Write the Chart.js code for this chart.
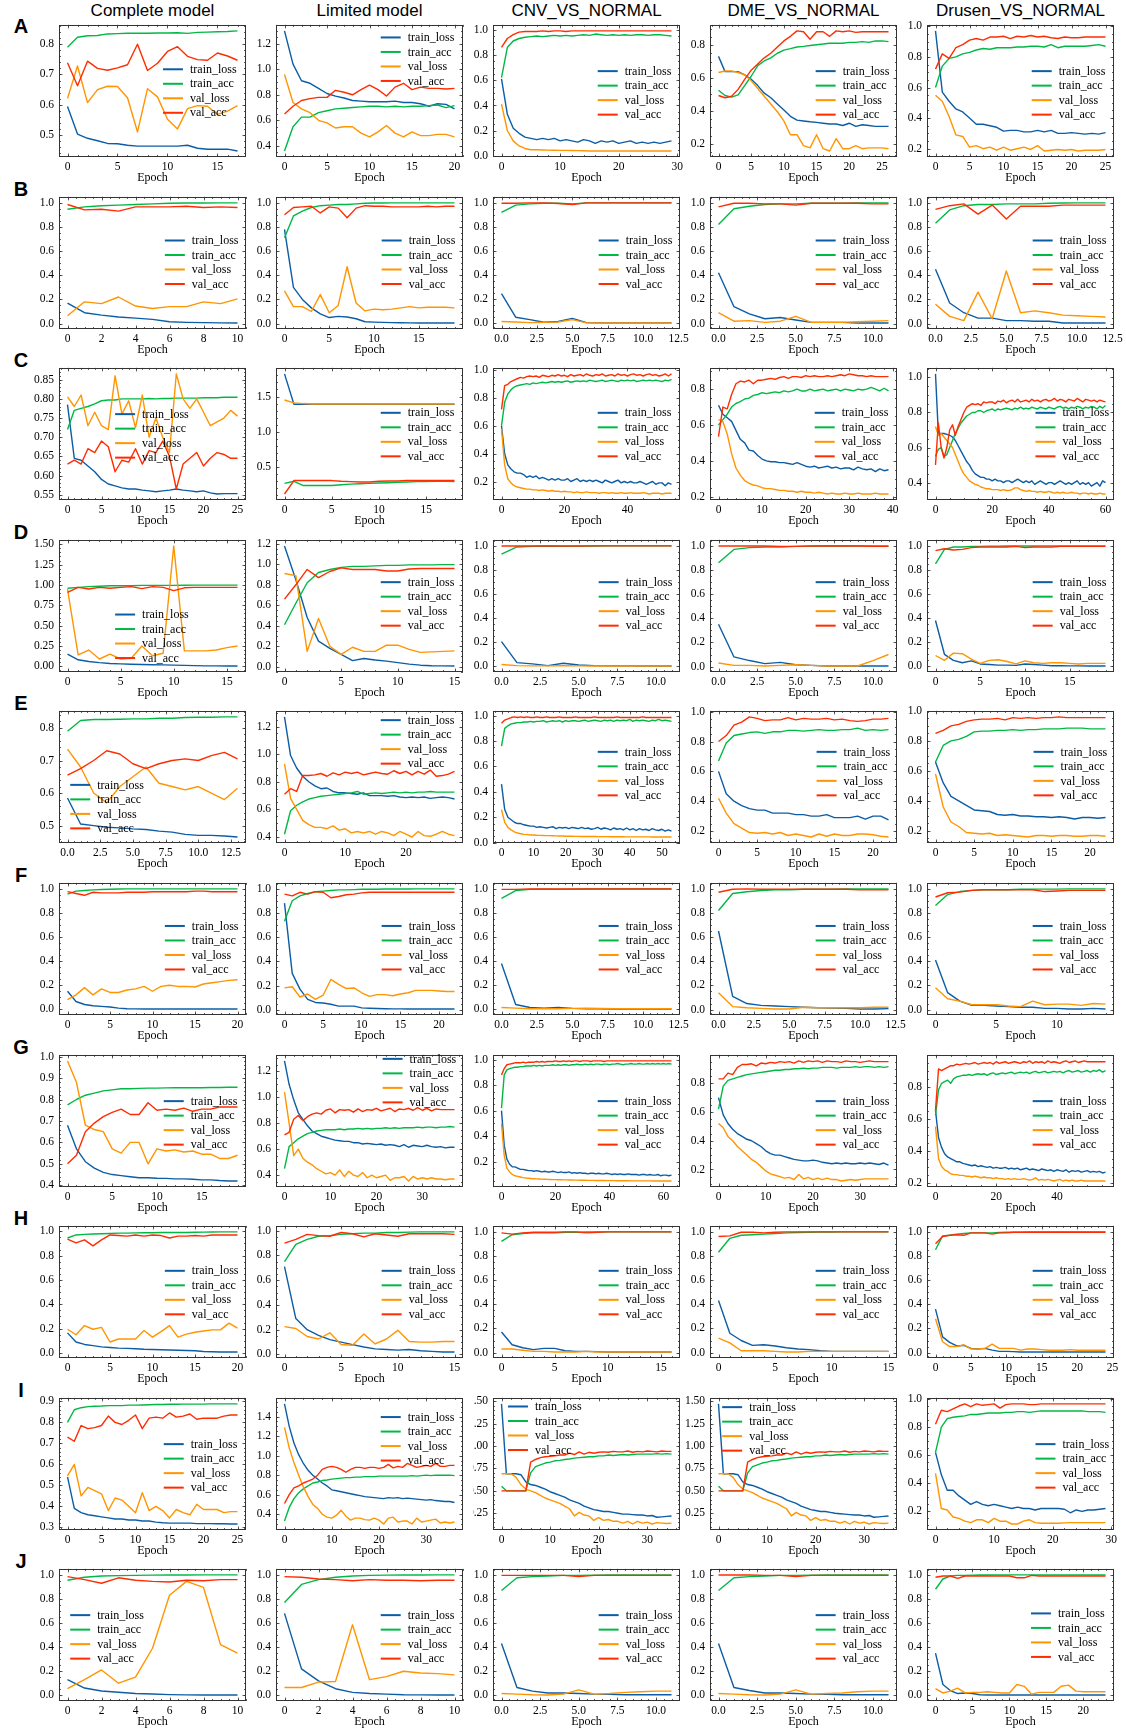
<!DOCTYPE html>
<html><head><meta charset="utf-8">
<script src="https://cdn.jsdelivr.net/npm/chart.js@4.4.0/dist/chart.umd.min.js"></script>
<style>
html,body{margin:0;padding:0;background:#fff;}
#fig{position:relative;width:1126px;height:1732px;overflow:hidden;background:#fff;}
.ttl{position:absolute;top:0;height:22px;line-height:22px;width:240px;text-align:center;font-family:"Liberation Sans",Arial,sans-serif;font-size:17px;color:#000;white-space:nowrap;}
.let{position:absolute;width:30px;text-align:center;font-family:"Liberation Sans",Arial,sans-serif;font-weight:bold;font-size:20px;line-height:24px;color:#000;}
canvas{position:absolute;}
</style></head><body><div id="fig"></div>
<script>
// ---------- labels ----------
const SERIES_NAMES = ['train_loss','train_acc','val_loss','val_acc'];
const SERIES_COLORS = ['#0C5DA5','#00B945','#FF9500','#FF2C00'];
const COLUMN_TITLES = ['Complete model','Limited model','CNV_VS_NORMAL','DME_VS_NORMAL','Drusen_VS_NORMAL'];
const ROW_LETTERS = ['A','B','C','D','E','F','G','H','I','J'];

// ---------- row A ----------
const A1_train_loss = [0.594,0.503,0.489,0.481,0.472,0.471,0.466,0.463,0.463,0.463,0.463,0.463,0.466,0.456,0.453,0.453,0.453,0.447];
const A1_train_acc = [0.790,0.823,0.828,0.829,0.834,0.835,0.836,0.836,0.836,0.837,0.837,0.838,0.836,0.839,0.840,0.841,0.842,0.844];
const A1_val_loss = [0.621,0.728,0.607,0.650,0.661,0.660,0.623,0.510,0.653,0.626,0.552,0.520,0.587,0.597,0.595,0.568,0.579,0.597];
const A1_val_acc = [0.739,0.663,0.744,0.720,0.714,0.722,0.732,0.800,0.713,0.737,0.776,0.792,0.760,0.749,0.747,0.771,0.761,0.747];

const A2_train_loss = [1.30,1.04,0.91,0.89,0.85,0.81,0.79,0.775,0.755,0.75,0.745,0.745,0.745,0.75,0.74,0.74,0.73,0.71,0.73,0.725,0.69];
const A2_train_acc = [0.36,0.55,0.625,0.625,0.66,0.675,0.69,0.695,0.70,0.705,0.71,0.71,0.705,0.71,0.705,0.71,0.71,0.715,0.72,0.70,0.715];
const A2_val_loss = [0.96,0.74,0.69,0.66,0.60,0.58,0.54,0.55,0.55,0.50,0.47,0.51,0.56,0.50,0.47,0.51,0.48,0.48,0.49,0.49,0.47];
const A2_val_acc = [0.65,0.71,0.755,0.77,0.78,0.78,0.835,0.82,0.80,0.84,0.875,0.84,0.79,0.86,0.89,0.84,0.86,0.85,0.85,0.845,0.85];

const A3_train_loss = [0.61,0.33,0.22,0.18,0.15,0.14,0.13,0.14,0.13,0.14,0.12,0.13,0.12,0.11,0.13,0.12,0.10,0.12,0.11,0.12,0.10,0.11,0.12,0.10,0.11,0.10,0.11,0.10,0.11,0.12];
const A3_train_acc = [0.62,0.86,0.91,0.93,0.94,0.945,0.95,0.945,0.95,0.955,0.95,0.955,0.95,0.955,0.96,0.955,0.965,0.96,0.955,0.96,0.955,0.96,0.955,0.96,0.96,0.955,0.96,0.96,0.955,0.95];
const A3_val_loss = [0.41,0.20,0.12,0.08,0.06,0.05,0.05,0.048,0.047,0.046,0.045,0.045,0.044,0.043,0.042,0.04,0.04,0.04,0.04,0.04,0.04,0.04,0.04,0.04,0.04,0.04,0.04,0.04,0.04,0.04];
const A3_val_acc = [0.86,0.93,0.96,0.98,0.985,0.985,0.985,0.99,0.985,0.99,0.99,0.985,0.99,0.99,0.99,0.99,0.99,0.99,0.99,0.99,0.99,0.99,0.99,0.99,0.99,0.99,0.99,0.99,0.99,0.99];

const A4_train_loss = [0.732,0.639,0.639,0.639,0.620,0.592,0.554,0.508,0.480,0.442,0.405,0.367,0.344,0.339,0.334,0.330,0.325,0.320,0.320,0.311,0.325,0.306,0.316,0.311,0.306,0.306,0.306];
const A4_train_acc = [0.526,0.494,0.484,0.498,0.554,0.611,0.676,0.704,0.723,0.751,0.770,0.779,0.789,0.793,0.798,0.803,0.807,0.812,0.812,0.812,0.817,0.817,0.822,0.817,0.826,0.826,0.822];
const A4_val_loss = [0.634,0.643,0.643,0.634,0.620,0.583,0.536,0.489,0.442,0.395,0.339,0.255,0.255,0.189,0.175,0.255,0.170,0.156,0.231,0.170,0.170,0.189,0.170,0.175,0.175,0.175,0.170];
const A4_val_acc = [0.494,0.480,0.489,0.531,0.592,0.648,0.686,0.723,0.751,0.789,0.826,0.854,0.887,0.882,0.836,0.882,0.882,0.854,0.887,0.882,0.887,0.878,0.882,0.882,0.882,0.882,0.882];

const A5_train_loss = [0.97,0.57,0.51,0.46,0.44,0.40,0.36,0.36,0.35,0.34,0.315,0.32,0.32,0.31,0.31,0.32,0.31,0.32,0.30,0.30,0.305,0.30,0.295,0.30,0.295,0.305];
const A5_train_acc = [0.60,0.74,0.79,0.80,0.82,0.83,0.845,0.855,0.85,0.86,0.86,0.86,0.865,0.865,0.87,0.87,0.865,0.88,0.86,0.87,0.87,0.87,0.87,0.875,0.88,0.87];
const A5_val_loss = [0.55,0.51,0.41,0.29,0.28,0.21,0.22,0.20,0.21,0.19,0.21,0.19,0.20,0.21,0.195,0.22,0.185,0.19,0.195,0.19,0.195,0.185,0.19,0.19,0.19,0.195];
const A5_val_acc = [0.72,0.82,0.79,0.86,0.88,0.91,0.92,0.91,0.93,0.93,0.935,0.92,0.935,0.93,0.94,0.93,0.935,0.925,0.92,0.93,0.925,0.925,0.93,0.93,0.93,0.93];

// ---------- row B ----------
const B1_train_loss = [0.17,0.09,0.07,0.055,0.045,0.035,0.015,0.01,0.008,0.006,0.005];
const B1_train_acc = [0.945,0.965,0.975,0.98,0.985,0.99,0.995,0.997,0.997,0.998,0.998];
const B1_val_loss = [0.065,0.18,0.165,0.22,0.145,0.125,0.14,0.14,0.18,0.165,0.205];
const B1_val_acc = [0.985,0.94,0.945,0.93,0.965,0.965,0.965,0.97,0.96,0.965,0.96];

const B2_train_loss = [0.78,0.30,0.20,0.13,0.08,0.05,0.06,0.055,0.04,0.015,0.012,0.01,0.008,0.007,0.006,0.005,0.005,0.005,0.005,0.005];
const B2_train_acc = [0.71,0.89,0.93,0.96,0.975,0.98,0.985,0.985,0.99,0.995,0.997,0.997,0.998,0.998,0.998,0.998,0.998,0.998,0.998,0.998];
const B2_val_loss = [0.27,0.14,0.14,0.10,0.24,0.09,0.15,0.47,0.17,0.105,0.12,0.115,0.12,0.13,0.14,0.13,0.135,0.135,0.135,0.13];
const B2_val_acc = [0.90,0.96,0.965,0.97,0.915,0.965,0.955,0.875,0.955,0.975,0.97,0.97,0.965,0.965,0.965,0.965,0.97,0.965,0.97,0.97];

const B3_train_loss = [0.245,0.05,0.03,0.008,0.015,0.04,0.005,0.003,0.003,0.003,0.003,0.003,0.003];
const B3_train_acc = [0.92,0.98,0.99,0.995,0.995,0.99,0.998,0.998,0.998,0.998,0.998,0.998,0.998];
const B3_val_loss = [0.015,0.01,0.005,0.008,0.01,0.03,0.003,0.002,0.002,0.002,0.002,0.002,0.002];
const B3_val_acc = [0.995,0.995,0.998,0.998,0.993,0.985,0.998,0.998,0.998,0.998,0.998,0.998,0.998];

const B4_train_loss = [0.42,0.14,0.08,0.04,0.05,0.03,0.01,0.01,0.01,0.005,0.005,0.005];
const B4_train_acc = [0.82,0.95,0.97,0.985,0.99,0.99,0.995,0.995,0.995,0.998,0.998,0.998];
const B4_val_loss = [0.09,0.02,0.025,0.01,0.02,0.06,0.01,0.01,0.01,0.015,0.02,0.025];
const B4_val_acc = [0.965,0.995,0.995,0.99,0.99,0.98,0.995,0.995,0.995,0.995,0.99,0.99];

const B5_train_loss = [0.45,0.17,0.09,0.045,0.045,0.025,0.025,0.02,0.02,0.005,0.005,0.005,0.005];
const B5_train_acc = [0.83,0.94,0.975,0.985,0.985,0.99,0.99,0.99,0.995,0.997,0.998,0.998,0.998];
const B5_val_loss = [0.16,0.06,0.025,0.26,0.04,0.435,0.09,0.105,0.09,0.07,0.065,0.06,0.055];
const B5_val_acc = [0.945,0.975,0.99,0.905,0.98,0.865,0.97,0.97,0.97,0.98,0.98,0.98,0.98];

// ---------- row C ----------
const C1_train_loss = [0.785,0.645,0.64,0.625,0.61,0.59,0.578,0.573,0.568,0.565,0.565,0.562,0.56,0.558,0.56,0.562,0.565,0.562,0.56,0.558,0.56,0.555,0.552,0.553,0.553,0.553];
const C1_train_acc = [0.72,0.77,0.775,0.78,0.787,0.795,0.797,0.797,0.80,0.80,0.80,0.80,0.801,0.80,0.801,0.801,0.802,0.802,0.802,0.802,0.803,0.803,0.803,0.804,0.804,0.804];
const C1_val_loss = [0.805,0.78,0.81,0.73,0.765,0.73,0.72,0.86,0.76,0.795,0.725,0.81,0.70,0.75,0.70,0.66,0.865,0.80,0.775,0.80,0.765,0.73,0.74,0.75,0.77,0.755];
const C1_val_acc = [0.63,0.64,0.63,0.67,0.66,0.69,0.675,0.61,0.64,0.635,0.67,0.63,0.665,0.66,0.69,0.65,0.565,0.63,0.645,0.66,0.625,0.645,0.66,0.655,0.645,0.645];

const C2_train_loss = [1.82,1.39,1.39,1.39,1.39,1.39,1.39,1.39,1.39,1.39,1.39,1.39,1.39,1.39,1.39,1.39,1.39,1.39,1.39];
const C2_train_acc = [0.27,0.30,0.24,0.24,0.24,0.24,0.25,0.26,0.265,0.27,0.275,0.28,0.285,0.29,0.295,0.295,0.30,0.30,0.295];
const C2_val_loss = [1.45,1.41,1.40,1.395,1.395,1.395,1.395,1.395,1.395,1.395,1.395,1.395,1.395,1.395,1.395,1.395,1.395,1.395,1.395];
const C2_val_acc = [0.12,0.31,0.31,0.31,0.31,0.31,0.30,0.295,0.29,0.29,0.30,0.305,0.305,0.31,0.31,0.31,0.31,0.31,0.31];

const C3_train_loss = [0.60,0.40,0.32,0.29,0.27,0.26,0.26,0.25,0.23,0.24,0.23,0.24,0.22,0.23,0.22,0.21,0.22,0.21,0.22,0.21,0.21,0.22,0.20,0.21,0.22,0.20,0.21,0.20,0.21,0.20,0.21,0.20,0.19,0.21,0.20,0.19,0.20,0.21,0.19,0.20,0.19,0.20,0.19,0.19,0.20,0.19,0.18,0.19,0.20,0.18,0.19,0.19,0.17,0.19,0.18];
const C3_train_acc = [0.60,0.77,0.83,0.86,0.88,0.89,0.895,0.90,0.905,0.90,0.91,0.905,0.91,0.915,0.91,0.915,0.92,0.915,0.92,0.915,0.92,0.925,0.915,0.92,0.925,0.92,0.925,0.92,0.93,0.925,0.92,0.925,0.93,0.92,0.925,0.93,0.925,0.92,0.93,0.925,0.93,0.925,0.93,0.92,0.925,0.93,0.925,0.93,0.925,0.93,0.925,0.92,0.93,0.925,0.935];
const C3_val_loss = [0.58,0.32,0.22,0.19,0.17,0.16,0.155,0.15,0.145,0.145,0.14,0.14,0.135,0.14,0.135,0.13,0.135,0.13,0.13,0.125,0.13,0.125,0.125,0.12,0.125,0.12,0.12,0.125,0.12,0.12,0.12,0.115,0.12,0.12,0.115,0.12,0.115,0.115,0.12,0.115,0.115,0.12,0.115,0.115,0.115,0.12,0.115,0.11,0.115,0.115,0.115,0.11,0.115,0.115,0.115];
const C3_val_acc = [0.72,0.89,0.90,0.92,0.93,0.94,0.95,0.945,0.955,0.96,0.955,0.96,0.95,0.965,0.96,0.955,0.965,0.96,0.97,0.96,0.965,0.955,0.97,0.96,0.965,0.97,0.96,0.975,0.965,0.96,0.97,0.965,0.975,0.96,0.965,0.97,0.96,0.975,0.965,0.97,0.96,0.97,0.975,0.965,0.97,0.96,0.97,0.975,0.965,0.97,0.96,0.965,0.975,0.96,0.975];

const C4_train_loss = [0.71,0.66,0.64,0.62,0.57,0.52,0.50,0.46,0.455,0.43,0.41,0.40,0.395,0.395,0.39,0.39,0.385,0.38,0.39,0.38,0.37,0.365,0.37,0.36,0.365,0.37,0.36,0.365,0.355,0.36,0.36,0.35,0.365,0.355,0.35,0.355,0.34,0.355,0.345,0.35];
const C4_train_acc = [0.60,0.63,0.66,0.70,0.72,0.73,0.745,0.75,0.765,0.77,0.78,0.775,0.78,0.785,0.78,0.79,0.785,0.79,0.80,0.79,0.79,0.80,0.79,0.795,0.80,0.79,0.795,0.80,0.79,0.80,0.795,0.79,0.80,0.795,0.80,0.81,0.80,0.79,0.805,0.79];
const C4_val_loss = [0.63,0.62,0.55,0.44,0.36,0.32,0.29,0.275,0.265,0.26,0.25,0.245,0.245,0.24,0.235,0.235,0.23,0.23,0.225,0.23,0.225,0.225,0.22,0.225,0.22,0.215,0.22,0.215,0.215,0.22,0.215,0.215,0.22,0.215,0.215,0.215,0.22,0.215,0.215,0.215];
const C4_val_acc = [0.535,0.70,0.69,0.77,0.83,0.845,0.84,0.85,0.83,0.85,0.85,0.855,0.86,0.855,0.865,0.87,0.86,0.87,0.87,0.865,0.875,0.87,0.875,0.87,0.87,0.875,0.87,0.875,0.88,0.875,0.885,0.88,0.875,0.875,0.87,0.875,0.87,0.87,0.87,0.87];

const C5_train_loss = [1.02,0.68,0.68,0.68,0.675,0.67,0.66,0.64,0.61,0.58,0.55,0.52,0.50,0.47,0.45,0.44,0.43,0.43,0.42,0.42,0.41,0.42,0.41,0.41,0.40,0.41,0.41,0.40,0.41,0.42,0.41,0.40,0.41,0.40,0.41,0.39,0.40,0.41,0.40,0.39,0.40,0.40,0.39,0.40,0.41,0.40,0.39,0.40,0.39,0.40,0.41,0.39,0.40,0.39,0.40,0.38,0.39,0.40,0.38,0.41,0.40];
const C5_train_acc = [0.55,0.59,0.60,0.55,0.56,0.60,0.64,0.68,0.71,0.74,0.76,0.78,0.79,0.80,0.80,0.81,0.81,0.80,0.81,0.815,0.82,0.81,0.82,0.815,0.82,0.825,0.82,0.815,0.825,0.82,0.83,0.82,0.825,0.82,0.83,0.825,0.82,0.83,0.825,0.82,0.83,0.825,0.82,0.83,0.835,0.825,0.83,0.82,0.83,0.825,0.835,0.83,0.82,0.83,0.825,0.835,0.83,0.82,0.835,0.825,0.84];
const C5_val_loss = [0.72,0.67,0.68,0.66,0.64,0.62,0.60,0.56,0.52,0.48,0.45,0.43,0.41,0.40,0.39,0.385,0.375,0.37,0.365,0.365,0.36,0.36,0.36,0.355,0.36,0.355,0.355,0.36,0.37,0.37,0.36,0.355,0.35,0.355,0.35,0.35,0.345,0.35,0.345,0.345,0.35,0.345,0.34,0.345,0.34,0.345,0.34,0.34,0.345,0.34,0.34,0.335,0.34,0.34,0.335,0.34,0.335,0.335,0.34,0.335,0.335];
const C5_val_acc = [0.50,0.74,0.60,0.54,0.60,0.70,0.73,0.67,0.72,0.76,0.80,0.83,0.84,0.85,0.845,0.85,0.84,0.86,0.855,0.86,0.86,0.85,0.865,0.86,0.87,0.855,0.865,0.87,0.86,0.875,0.86,0.865,0.87,0.86,0.875,0.865,0.87,0.86,0.87,0.875,0.865,0.87,0.88,0.865,0.875,0.87,0.86,0.875,0.87,0.865,0.88,0.87,0.86,0.875,0.87,0.865,0.87,0.86,0.87,0.865,0.86];

// ---------- row D ----------
const D1_train_loss = [0.15,0.08,0.06,0.045,0.035,0.03,0.025,0.022,0.02,0.018,0.015,0.012,0.008,0.005,0.005,0.004,0.004];
const D1_train_acc = [0.96,0.97,0.98,0.985,0.99,0.99,0.99,0.995,0.995,0.995,0.995,0.997,0.998,0.998,0.998,0.998,0.998];
const D1_val_loss = [0.95,0.14,0.20,0.09,0.15,0.09,0.10,0.25,0.13,0.16,1.48,0.19,0.19,0.19,0.20,0.23,0.25];
const D1_val_acc = [0.91,0.97,0.95,0.97,0.96,0.97,0.98,0.955,0.98,0.97,0.93,0.965,0.97,0.97,0.97,0.97,0.97];

const D2_train_loss = [1.18,0.85,0.48,0.25,0.18,0.12,0.06,0.08,0.065,0.055,0.04,0.025,0.015,0.01,0.008,0.007];
const D2_train_acc = [0.41,0.62,0.82,0.92,0.95,0.97,0.98,0.98,0.985,0.99,0.99,0.995,0.995,0.995,0.997,0.997];
const D2_val_loss = [0.91,0.89,0.15,0.47,0.20,0.12,0.19,0.15,0.15,0.21,0.21,0.17,0.14,0.145,0.15,0.155];
const D2_val_acc = [0.66,0.80,0.95,0.87,0.93,0.965,0.95,0.95,0.95,0.935,0.935,0.955,0.96,0.96,0.96,0.96];

const D3_train_loss = [0.205,0.03,0.02,0.005,0.025,0.01,0.005,0.003,0.003,0.002,0.002,0.002];
const D3_train_acc = [0.93,0.99,0.995,0.998,0.995,0.997,0.998,0.999,0.999,0.999,0.999,0.999];
const D3_val_loss = [0.015,0.005,0.003,0.003,0.004,0.003,0.002,0.002,0.002,0.002,0.002,0.002];
const D3_val_acc = [0.998,0.998,0.998,0.998,0.998,0.998,0.999,0.999,0.999,0.999,0.999,0.999];

const D4_train_loss = [0.35,0.08,0.05,0.025,0.035,0.015,0.01,0.005,0.005,0.005,0.005,0.005];
const D4_train_acc = [0.86,0.97,0.985,0.99,0.99,0.995,0.997,0.998,0.998,0.999,0.999,0.999];
const D4_val_loss = [0.03,0.01,0.01,0.005,0.01,0.015,0.01,0.005,0.005,0.005,0.05,0.10];
const D4_val_acc = [0.998,0.998,0.998,0.998,0.995,0.995,0.998,0.998,0.998,0.998,0.995,0.995];

const D5_train_loss = [0.38,0.10,0.05,0.03,0.045,0.02,0.015,0.01,0.01,0.008,0.02,0.015,0.01,0.005,0.005,0.004,0.004,0.003,0.003,0.003];
const D5_train_acc = [0.85,0.97,0.99,0.99,0.995,0.995,0.997,0.997,0.998,0.998,0.998,0.998,0.999,0.999,0.999,0.999,0.999,0.999,0.999,0.999];
const D5_val_loss = [0.09,0.05,0.11,0.105,0.06,0.025,0.05,0.055,0.04,0.02,0.045,0.03,0.025,0.03,0.03,0.025,0.02,0.025,0.025,0.025];
const D5_val_acc = [0.96,0.975,0.965,0.97,0.985,0.99,0.99,0.99,0.99,0.995,0.985,0.99,0.99,0.99,0.995,0.995,0.995,0.995,0.995,0.995];

// ---------- row E ----------
const E1_train_loss = [0.585,0.505,0.50,0.495,0.493,0.49,0.488,0.483,0.48,0.473,0.47,0.47,0.468,0.465];
const E1_train_acc = [0.79,0.823,0.826,0.826,0.827,0.828,0.828,0.83,0.83,0.832,0.833,0.833,0.834,0.834];
const E1_val_loss = [0.735,0.68,0.60,0.57,0.62,0.65,0.68,0.63,0.62,0.61,0.62,0.60,0.58,0.615];
const E1_val_acc = [0.655,0.675,0.70,0.73,0.72,0.69,0.675,0.69,0.70,0.705,0.70,0.715,0.725,0.705];

const E2_train_loss = [1.27,0.99,0.90,0.84,0.80,0.77,0.75,0.755,0.73,0.72,0.72,0.715,0.71,0.72,0.70,0.70,0.70,0.695,0.70,0.69,0.685,0.69,0.685,0.69,0.68,0.685,0.69,0.685,0.675];
const E2_train_acc = [0.42,0.59,0.63,0.655,0.675,0.685,0.695,0.70,0.705,0.71,0.715,0.72,0.73,0.71,0.715,0.72,0.715,0.72,0.725,0.72,0.725,0.72,0.725,0.725,0.73,0.725,0.725,0.725,0.725];
const E2_val_loss = [0.93,0.68,0.60,0.52,0.49,0.47,0.47,0.46,0.48,0.45,0.46,0.43,0.44,0.43,0.44,0.42,0.44,0.43,0.41,0.44,0.42,0.40,0.44,0.41,0.405,0.42,0.44,0.42,0.41];
const E2_val_acc = [0.71,0.75,0.73,0.845,0.845,0.85,0.86,0.84,0.865,0.85,0.87,0.86,0.87,0.85,0.86,0.87,0.86,0.855,0.88,0.86,0.875,0.85,0.875,0.855,0.885,0.84,0.845,0.855,0.875];

const E3_train_loss = [0.46,0.26,0.20,0.18,0.16,0.15,0.15,0.14,0.135,0.13,0.13,0.12,0.125,0.12,0.115,0.12,0.125,0.11,0.12,0.115,0.12,0.11,0.12,0.115,0.11,0.12,0.11,0.115,0.105,0.11,0.12,0.105,0.115,0.11,0.10,0.115,0.105,0.11,0.10,0.115,0.10,0.11,0.095,0.11,0.10,0.105,0.095,0.11,0.10,0.095,0.105,0.09,0.10,0.09];
const E3_train_acc = [0.76,0.90,0.92,0.935,0.94,0.945,0.945,0.95,0.95,0.955,0.95,0.955,0.955,0.96,0.95,0.955,0.96,0.955,0.96,0.95,0.96,0.955,0.96,0.96,0.955,0.96,0.965,0.955,0.96,0.965,0.96,0.955,0.965,0.96,0.965,0.955,0.965,0.96,0.965,0.96,0.97,0.955,0.965,0.96,0.965,0.96,0.955,0.965,0.96,0.97,0.96,0.965,0.96,0.955];
const E3_val_loss = [0.26,0.16,0.12,0.10,0.085,0.075,0.07,0.065,0.063,0.06,0.06,0.058,0.057,0.056,0.055,0.055,0.054,0.053,0.052,0.052,0.05,0.05,0.05,0.049,0.049,0.048,0.048,0.048,0.048,0.048,0.047,0.047,0.047,0.047,0.046,0.046,0.046,0.046,0.046,0.045,0.045,0.045,0.045,0.045,0.045,0.045,0.045,0.044,0.044,0.044,0.044,0.044,0.044,0.044];
const E3_val_acc = [0.94,0.965,0.975,0.985,0.99,0.985,0.99,0.985,0.99,0.985,0.985,0.99,0.985,0.985,0.99,0.985,0.985,0.985,0.99,0.985,0.985,0.985,0.985,0.99,0.985,0.985,0.985,0.985,0.985,0.99,0.985,0.985,0.985,0.985,0.985,0.985,0.99,0.985,0.985,0.985,0.985,0.985,0.985,0.985,0.99,0.985,0.985,0.985,0.985,0.985,0.985,0.985,0.985,0.985];

const E4_train_loss = [0.60,0.45,0.40,0.37,0.35,0.34,0.34,0.32,0.32,0.32,0.31,0.31,0.30,0.30,0.31,0.29,0.29,0.29,0.30,0.28,0.30,0.30,0.275];
const E4_train_acc = [0.67,0.79,0.84,0.85,0.86,0.865,0.855,0.865,0.865,0.875,0.875,0.87,0.875,0.88,0.875,0.875,0.88,0.88,0.89,0.875,0.88,0.875,0.88];
const E4_val_loss = [0.42,0.32,0.25,0.22,0.19,0.185,0.19,0.18,0.19,0.17,0.18,0.17,0.16,0.18,0.165,0.18,0.17,0.17,0.18,0.18,0.175,0.165,0.16];
const E4_val_acc = [0.80,0.84,0.91,0.93,0.965,0.955,0.94,0.945,0.945,0.96,0.945,0.955,0.95,0.95,0.955,0.945,0.95,0.94,0.935,0.94,0.95,0.95,0.955];

const E5_train_loss = [0.66,0.52,0.43,0.40,0.37,0.34,0.335,0.33,0.31,0.305,0.31,0.30,0.30,0.295,0.295,0.29,0.295,0.29,0.28,0.29,0.29,0.285,0.29];
const E5_train_acc = [0.66,0.77,0.80,0.81,0.83,0.86,0.865,0.865,0.87,0.87,0.875,0.87,0.875,0.875,0.88,0.88,0.88,0.885,0.885,0.885,0.88,0.88,0.88];
const E5_val_loss = [0.58,0.36,0.26,0.23,0.19,0.185,0.18,0.185,0.17,0.175,0.17,0.165,0.16,0.17,0.17,0.165,0.17,0.17,0.165,0.165,0.17,0.17,0.165];
const E5_val_acc = [0.85,0.87,0.90,0.91,0.93,0.94,0.945,0.945,0.95,0.94,0.955,0.95,0.955,0.95,0.955,0.955,0.96,0.955,0.955,0.955,0.955,0.955,0.955];

// ---------- row F ----------
const F1_train_loss = [0.15,0.065,0.04,0.03,0.025,0.02,0.01,0.005,0.004,0.003,0.003,0.003,0.003,0.003,0.003,0.003,0.003,0.003,0.003,0.003,0.003];
const F1_train_acc = [0.955,0.98,0.985,0.99,0.993,0.995,0.997,0.998,0.998,0.998,0.998,0.998,0.998,0.998,0.998,0.998,0.998,0.998,0.998,0.998,0.998];
const F1_val_loss = [0.08,0.12,0.18,0.12,0.17,0.14,0.14,0.16,0.17,0.19,0.15,0.19,0.20,0.19,0.19,0.185,0.21,0.22,0.23,0.24,0.245];
const F1_val_acc = [0.975,0.96,0.945,0.97,0.965,0.965,0.965,0.97,0.97,0.97,0.975,0.975,0.975,0.975,0.975,0.98,0.98,0.975,0.975,0.975,0.975];

const F2_train_loss = [0.88,0.30,0.17,0.085,0.06,0.055,0.045,0.03,0.03,0.03,0.015,0.012,0.01,0.008,0.007,0.007,0.006,0.006,0.006,0.006,0.006,0.006,0.006];
const F2_train_acc = [0.73,0.90,0.94,0.96,0.975,0.98,0.985,0.99,0.99,0.992,0.995,0.995,0.995,0.997,0.997,0.997,0.997,0.998,0.998,0.998,0.998,0.998,0.998];
const F2_val_loss = [0.18,0.19,0.105,0.13,0.085,0.12,0.25,0.21,0.175,0.18,0.14,0.11,0.125,0.125,0.115,0.13,0.14,0.16,0.16,0.16,0.155,0.15,0.15];
const F2_val_acc = [0.955,0.94,0.97,0.955,0.975,0.97,0.925,0.935,0.95,0.955,0.965,0.97,0.97,0.97,0.97,0.97,0.97,0.97,0.97,0.97,0.97,0.97,0.97];

const F3_train_loss = [0.38,0.04,0.015,0.01,0.015,0.008,0.005,0.004,0.003,0.003,0.003,0.003,0.003];
const F3_train_acc = [0.92,0.985,0.995,0.997,0.995,0.997,0.998,0.999,0.999,0.999,0.999,0.999,0.999];
const F3_val_loss = [0.015,0.01,0.005,0.005,0.005,0.008,0.01,0.008,0.005,0.005,0.005,0.005,0.005];
const F3_val_acc = [0.995,0.995,0.998,0.998,0.998,0.998,0.998,0.998,0.998,0.998,0.998,0.998,0.998];

const F4_train_loss = [0.65,0.11,0.05,0.035,0.03,0.025,0.02,0.015,0.012,0.01,0.005,0.005,0.008];
const F4_train_acc = [0.82,0.96,0.975,0.985,0.99,0.99,0.995,0.995,0.995,0.997,0.997,0.997,0.997];
const F4_val_loss = [0.14,0.025,0.015,0.01,0.005,0.005,0.02,0.015,0.015,0.015,0.015,0.02,0.02];
const F4_val_acc = [0.97,0.995,0.998,0.995,0.995,0.995,0.995,0.995,0.995,0.995,0.99,0.99,0.99];

const F5_train_loss = [0.41,0.14,0.07,0.035,0.035,0.03,0.025,0.02,0.02,0.01,0.01,0.005,0.005,0.01,0.005];
const F5_train_acc = [0.86,0.95,0.975,0.985,0.99,0.99,0.99,0.995,0.995,0.995,0.995,0.997,0.997,0.997,0.997];
const F5_val_loss = [0.18,0.09,0.07,0.04,0.04,0.04,0.03,0.025,0.07,0.04,0.045,0.045,0.035,0.05,0.045];
const F5_val_acc = [0.93,0.965,0.97,0.985,0.99,0.99,0.99,0.99,0.99,0.975,0.98,0.985,0.985,0.985,0.985];

// ---------- row G ----------
const G1_train_loss = [0.68,0.57,0.51,0.48,0.46,0.45,0.445,0.44,0.435,0.435,0.433,0.432,0.43,0.43,0.428,0.425,0.425,0.422,0.42,0.42];
const G1_train_acc = [0.775,0.80,0.82,0.83,0.84,0.845,0.85,0.85,0.852,0.853,0.853,0.854,0.855,0.855,0.855,0.855,0.856,0.856,0.857,0.857];
const G1_val_loss = [0.98,0.88,0.68,0.66,0.65,0.57,0.55,0.60,0.60,0.50,0.57,0.56,0.565,0.555,0.56,0.545,0.545,0.525,0.525,0.54];
const G1_val_acc = [0.50,0.54,0.65,0.69,0.72,0.74,0.755,0.73,0.73,0.785,0.75,0.755,0.75,0.76,0.745,0.755,0.755,0.765,0.765,0.765];

const G2_train_loss = [1.28,1.10,0.98,0.88,0.83,0.78,0.74,0.72,0.70,0.69,0.68,0.67,0.665,0.66,0.66,0.65,0.65,0.64,0.645,0.64,0.635,0.64,0.63,0.635,0.63,0.62,0.635,0.615,0.63,0.625,0.62,0.63,0.62,0.615,0.62,0.61,0.615,0.615];
const G2_train_acc = [0.45,0.62,0.65,0.68,0.70,0.72,0.73,0.74,0.745,0.75,0.75,0.75,0.755,0.75,0.755,0.755,0.76,0.755,0.76,0.755,0.76,0.76,0.765,0.76,0.765,0.76,0.765,0.765,0.765,0.77,0.765,0.77,0.77,0.765,0.77,0.77,0.775,0.77];
const G2_val_loss = [1.04,0.80,0.55,0.60,0.53,0.50,0.48,0.45,0.43,0.41,0.42,0.40,0.44,0.39,0.43,0.40,0.39,0.42,0.38,0.40,0.38,0.39,0.40,0.36,0.38,0.38,0.39,0.355,0.39,0.37,0.38,0.37,0.38,0.37,0.37,0.365,0.37,0.37];
const G2_val_acc = [0.71,0.73,0.83,0.86,0.82,0.85,0.87,0.88,0.87,0.90,0.91,0.88,0.905,0.90,0.905,0.885,0.91,0.89,0.905,0.90,0.915,0.895,0.905,0.915,0.89,0.91,0.905,0.915,0.90,0.92,0.90,0.915,0.895,0.91,0.905,0.905,0.905,0.905];

const G3_train_loss = [0.60,0.33,0.22,0.18,0.16,0.16,0.15,0.14,0.14,0.135,0.13,0.13,0.125,0.13,0.125,0.12,0.125,0.12,0.12,0.125,0.12,0.115,0.12,0.115,0.115,0.12,0.11,0.115,0.11,0.115,0.11,0.11,0.105,0.11,0.11,0.105,0.11,0.105,0.105,0.11,0.105,0.1,0.105,0.1,0.105,0.1,0.1,0.105,0.1,0.1,0.1,0.095,0.1,0.1,0.095,0.1,0.095,0.095,0.1,0.09,0.095,0.095,0.09,0.095];
const G3_train_acc = [0.62,0.88,0.92,0.93,0.935,0.94,0.94,0.945,0.945,0.95,0.95,0.95,0.955,0.95,0.955,0.95,0.955,0.955,0.955,0.96,0.955,0.96,0.955,0.96,0.96,0.955,0.96,0.96,0.965,0.96,0.96,0.965,0.96,0.965,0.96,0.965,0.965,0.96,0.965,0.965,0.96,0.965,0.965,0.97,0.965,0.96,0.965,0.965,0.97,0.965,0.965,0.97,0.965,0.965,0.97,0.965,0.97,0.965,0.97,0.965,0.97,0.965,0.97,0.965];
const G3_val_loss = [0.50,0.25,0.15,0.12,0.10,0.09,0.085,0.08,0.075,0.072,0.07,0.068,0.067,0.066,0.065,0.064,0.063,0.062,0.061,0.06,0.06,0.059,0.059,0.058,0.058,0.057,0.057,0.056,0.056,0.055,0.055,0.055,0.054,0.054,0.054,0.053,0.053,0.053,0.053,0.052,0.052,0.052,0.052,0.051,0.051,0.051,0.051,0.051,0.05,0.05,0.05,0.05,0.05,0.05,0.05,0.05,0.049,0.049,0.049,0.049,0.049,0.049,0.049,0.049];
const G3_val_acc = [0.88,0.93,0.96,0.965,0.97,0.975,0.975,0.975,0.98,0.975,0.98,0.98,0.98,0.985,0.98,0.985,0.98,0.985,0.985,0.985,0.99,0.985,0.985,0.99,0.985,0.99,0.985,0.99,0.99,0.985,0.99,0.99,0.99,0.985,0.99,0.99,0.99,0.99,0.985,0.99,0.99,0.99,0.99,0.99,0.99,0.99,0.99,0.99,0.99,0.99,0.99,0.99,0.99,0.99,0.99,0.99,0.99,0.99,0.99,0.99,0.99,0.99,0.99,0.99];

const G4_train_loss = [0.70,0.58,0.52,0.48,0.45,0.43,0.41,0.40,0.38,0.36,0.33,0.31,0.30,0.30,0.29,0.28,0.27,0.265,0.26,0.26,0.265,0.26,0.25,0.245,0.24,0.245,0.24,0.245,0.24,0.24,0.245,0.24,0.245,0.24,0.235,0.245,0.23];
const G4_train_acc = [0.62,0.78,0.82,0.83,0.84,0.85,0.86,0.865,0.87,0.875,0.88,0.885,0.89,0.89,0.895,0.895,0.90,0.90,0.905,0.90,0.905,0.905,0.91,0.91,0.91,0.905,0.91,0.91,0.91,0.915,0.91,0.915,0.915,0.91,0.915,0.91,0.915];
const G4_val_loss = [0.52,0.49,0.43,0.40,0.36,0.33,0.30,0.27,0.25,0.22,0.19,0.17,0.16,0.15,0.14,0.145,0.13,0.165,0.135,0.145,0.13,0.14,0.13,0.14,0.13,0.13,0.12,0.125,0.13,0.125,0.13,0.135,0.135,0.135,0.135,0.135,0.135];
const G4_val_acc = [0.83,0.83,0.87,0.86,0.91,0.93,0.93,0.935,0.92,0.94,0.935,0.945,0.94,0.95,0.945,0.95,0.94,0.955,0.945,0.955,0.95,0.955,0.945,0.955,0.95,0.95,0.945,0.955,0.95,0.95,0.945,0.95,0.955,0.95,0.95,0.95,0.95];

const G5_train_loss = [0.65,0.48,0.42,0.38,0.36,0.35,0.34,0.33,0.33,0.32,0.315,0.31,0.305,0.31,0.30,0.305,0.30,0.295,0.30,0.29,0.295,0.29,0.29,0.295,0.285,0.29,0.285,0.29,0.28,0.285,0.29,0.28,0.285,0.28,0.275,0.285,0.28,0.275,0.28,0.27,0.28,0.275,0.27,0.28,0.265,0.275,0.27,0.275,0.265,0.27,0.275,0.265,0.27,0.265,0.27,0.26,0.265];
const G5_train_acc = [0.62,0.78,0.82,0.83,0.84,0.82,0.85,0.86,0.865,0.87,0.87,0.875,0.87,0.875,0.88,0.875,0.88,0.87,0.88,0.885,0.875,0.88,0.885,0.88,0.885,0.89,0.88,0.885,0.89,0.885,0.89,0.88,0.89,0.895,0.885,0.89,0.895,0.885,0.89,0.895,0.89,0.895,0.885,0.895,0.90,0.89,0.895,0.90,0.89,0.895,0.90,0.89,0.90,0.895,0.905,0.89,0.90];
const G5_val_loss = [0.55,0.35,0.30,0.28,0.27,0.255,0.25,0.25,0.245,0.245,0.24,0.24,0.235,0.24,0.235,0.23,0.235,0.23,0.23,0.225,0.23,0.225,0.225,0.22,0.225,0.22,0.225,0.22,0.22,0.225,0.22,0.215,0.22,0.23,0.215,0.22,0.215,0.22,0.215,0.21,0.215,0.22,0.21,0.215,0.21,0.215,0.21,0.21,0.215,0.21,0.21,0.21,0.21,0.21,0.21,0.21,0.21];
const G5_val_acc = [0.65,0.91,0.90,0.91,0.92,0.93,0.93,0.94,0.935,0.94,0.945,0.94,0.945,0.95,0.94,0.945,0.95,0.945,0.95,0.94,0.955,0.945,0.95,0.955,0.945,0.95,0.955,0.95,0.945,0.955,0.95,0.96,0.945,0.955,0.95,0.955,0.945,0.96,0.95,0.955,0.95,0.945,0.955,0.96,0.95,0.955,0.96,0.95,0.955,0.96,0.955,0.955,0.955,0.955,0.955,0.955,0.955];

// ---------- row H ----------
const H1_train_loss = [0.165,0.09,0.07,0.06,0.05,0.045,0.04,0.038,0.035,0.03,0.028,0.027,0.025,0.022,0.02,0.018,0.012,0.01,0.008,0.008,0.008];
const H1_train_acc = [0.945,0.97,0.975,0.978,0.98,0.982,0.985,0.985,0.987,0.988,0.988,0.99,0.99,0.99,0.99,0.992,0.993,0.994,0.995,0.995,0.995];
const H1_val_loss = [0.195,0.15,0.225,0.195,0.21,0.09,0.115,0.115,0.115,0.185,0.13,0.175,0.225,0.13,0.155,0.17,0.18,0.19,0.19,0.245,0.205];
const H1_val_acc = [0.935,0.905,0.93,0.88,0.93,0.97,0.965,0.96,0.97,0.96,0.97,0.965,0.945,0.96,0.96,0.965,0.96,0.97,0.97,0.97,0.97];

const H2_train_loss = [0.71,0.29,0.20,0.155,0.12,0.10,0.08,0.06,0.045,0.04,0.035,0.04,0.03,0.025,0.02,0.02];
const H2_train_acc = [0.75,0.89,0.93,0.955,0.96,0.97,0.975,0.98,0.98,0.985,0.985,0.988,0.99,0.99,0.99,0.99];
const H2_val_loss = [0.225,0.21,0.145,0.125,0.175,0.08,0.075,0.165,0.085,0.125,0.195,0.105,0.10,0.10,0.105,0.105];
const H2_val_acc = [0.90,0.93,0.97,0.96,0.955,0.985,0.975,0.95,0.975,0.965,0.955,0.975,0.975,0.975,0.975,0.97];

const H3_train_loss = [0.17,0.065,0.04,0.025,0.035,0.035,0.015,0.01,0.01,0.008,0.005,0.005,0.005,0.005,0.005,0.005,0.005];
const H3_train_acc = [0.92,0.975,0.985,0.99,0.99,0.99,0.995,0.995,0.997,0.997,0.998,0.998,0.998,0.998,0.998,0.998,0.998];
const H3_val_loss = [0.03,0.03,0.02,0.01,0.01,0.005,0.005,0.005,0.01,0.005,0.005,0.005,0.005,0.005,0.005,0.005,0.005];
const H3_val_acc = [0.99,0.98,0.99,0.995,0.995,0.995,0.998,0.998,0.99,0.995,0.998,0.998,0.998,0.998,0.998,0.998,0.998];

const H4_train_loss = [0.43,0.16,0.10,0.06,0.065,0.055,0.04,0.03,0.025,0.015,0.01,0.01,0.01,0.01,0.01,0.01];
const H4_train_acc = [0.83,0.945,0.97,0.975,0.98,0.985,0.99,0.993,0.995,0.997,0.997,0.998,0.998,0.998,0.998,0.998];
const H4_val_loss = [0.12,0.08,0.015,0.015,0.015,0.01,0.005,0.005,0.01,0.01,0.01,0.01,0.01,0.01,0.01,0.01];
const H4_val_acc = [0.96,0.965,0.995,0.995,0.99,0.995,0.998,0.998,0.998,0.998,0.998,0.998,0.998,0.998,0.998,0.998];

const H5_train_loss = [0.36,0.13,0.085,0.055,0.06,0.035,0.03,0.035,0.02,0.01,0.01,0.008,0.005,0.005,0.005,0.005,0.005,0.005,0.005,0.005,0.005,0.005,0.005,0.005,0.005];
const H5_train_acc = [0.85,0.965,0.97,0.98,0.985,0.99,0.99,0.99,0.99,0.993,0.995,0.995,0.995,0.997,0.997,0.998,0.998,0.998,0.998,0.998,0.998,0.998,0.998,0.998,0.998];
const H5_val_loss = [0.28,0.09,0.05,0.05,0.065,0.03,0.03,0.035,0.07,0.035,0.035,0.035,0.02,0.03,0.03,0.025,0.02,0.02,0.02,0.025,0.02,0.02,0.02,0.02,0.02];
const H5_val_acc = [0.90,0.96,0.97,0.975,0.97,0.99,0.99,0.99,0.98,0.99,0.99,0.995,0.995,0.995,0.995,0.995,0.995,0.995,0.995,0.995,0.995,0.995,0.995,0.995,0.995];

// ---------- row I ----------
const I1_train_loss = [0.54,0.39,0.37,0.36,0.355,0.35,0.345,0.34,0.34,0.335,0.335,0.33,0.33,0.325,0.322,0.32,0.32,0.32,0.32,0.318,0.318,0.318,0.317,0.317,0.316,0.316];
const I1_train_acc = [0.80,0.86,0.87,0.875,0.877,0.878,0.88,0.88,0.88,0.882,0.882,0.883,0.884,0.885,0.885,0.886,0.886,0.887,0.887,0.887,0.887,0.888,0.888,0.888,0.888,0.888];
const I1_val_loss = [0.545,0.60,0.45,0.49,0.475,0.46,0.38,0.44,0.43,0.40,0.37,0.465,0.38,0.40,0.38,0.345,0.385,0.37,0.36,0.41,0.385,0.385,0.385,0.37,0.375,0.375];
const I1_val_acc = [0.73,0.71,0.785,0.77,0.775,0.785,0.83,0.80,0.79,0.81,0.835,0.77,0.82,0.825,0.82,0.845,0.825,0.83,0.84,0.815,0.82,0.82,0.82,0.83,0.835,0.835];

const I2_train_loss = [1.53,1.30,1.13,1.01,0.92,0.85,0.80,0.76,0.72,0.69,0.65,0.64,0.63,0.62,0.61,0.60,0.59,0.58,0.575,0.57,0.565,0.56,0.57,0.565,0.57,0.56,0.565,0.56,0.555,0.55,0.545,0.55,0.54,0.535,0.53,0.53,0.52];
const I2_train_acc = [0.33,0.47,0.56,0.62,0.66,0.69,0.72,0.73,0.745,0.75,0.76,0.765,0.77,0.775,0.775,0.78,0.78,0.785,0.785,0.785,0.79,0.79,0.79,0.79,0.79,0.79,0.79,0.795,0.79,0.795,0.80,0.795,0.80,0.80,0.80,0.80,0.795];
const I2_val_loss = [1.29,1.08,0.93,0.80,0.68,0.58,0.50,0.46,0.40,0.37,0.36,0.39,0.44,0.38,0.34,0.36,0.36,0.345,0.34,0.36,0.34,0.30,0.36,0.37,0.32,0.33,0.33,0.30,0.36,0.32,0.33,0.34,0.35,0.31,0.32,0.31,0.32];
const I2_val_acc = [0.51,0.60,0.67,0.69,0.72,0.74,0.76,0.80,0.86,0.88,0.89,0.88,0.86,0.83,0.86,0.88,0.88,0.87,0.88,0.88,0.87,0.88,0.91,0.875,0.89,0.88,0.92,0.90,0.88,0.89,0.90,0.89,0.92,0.89,0.89,0.90,0.90];

const I3_train_loss = [1.47,0.69,0.69,0.69,0.68,0.60,0.57,0.56,0.54,0.52,0.49,0.47,0.45,0.43,0.40,0.38,0.36,0.33,0.31,0.29,0.28,0.27,0.27,0.26,0.25,0.24,0.24,0.235,0.23,0.23,0.22,0.225,0.205,0.21,0.215,0.22];
const I3_train_acc = [0.55,0.50,0.50,0.50,0.50,0.50,0.70,0.77,0.79,0.81,0.82,0.835,0.84,0.85,0.855,0.865,0.87,0.875,0.88,0.88,0.89,0.89,0.90,0.895,0.90,0.905,0.90,0.905,0.91,0.91,0.91,0.91,0.915,0.91,0.915,0.91];
const I3_val_loss = [0.69,0.69,0.69,0.65,0.57,0.52,0.50,0.48,0.45,0.42,0.40,0.38,0.36,0.33,0.30,0.22,0.26,0.23,0.22,0.17,0.20,0.17,0.18,0.16,0.16,0.14,0.16,0.13,0.16,0.14,0.15,0.13,0.145,0.14,0.135,0.14];
const I3_val_acc = [0.50,0.50,0.50,0.50,0.50,0.50,0.82,0.85,0.87,0.88,0.885,0.89,0.90,0.90,0.92,0.905,0.935,0.91,0.93,0.92,0.93,0.935,0.93,0.94,0.935,0.935,0.945,0.93,0.94,0.935,0.945,0.94,0.935,0.945,0.94,0.94];

const I4_train_loss = [1.47,0.69,0.69,0.69,0.68,0.60,0.57,0.56,0.54,0.52,0.49,0.47,0.45,0.43,0.40,0.38,0.36,0.33,0.31,0.29,0.28,0.27,0.27,0.26,0.25,0.245,0.24,0.235,0.23,0.23,0.22,0.225,0.205,0.21,0.215,0.22];
const I4_train_acc = [0.55,0.50,0.50,0.50,0.50,0.50,0.70,0.77,0.79,0.81,0.82,0.835,0.84,0.85,0.855,0.865,0.87,0.875,0.88,0.88,0.89,0.89,0.90,0.895,0.90,0.905,0.90,0.905,0.91,0.91,0.91,0.91,0.915,0.91,0.915,0.91];
const I4_val_loss = [0.69,0.69,0.69,0.65,0.57,0.52,0.50,0.48,0.45,0.42,0.40,0.38,0.36,0.33,0.30,0.22,0.26,0.23,0.22,0.17,0.20,0.17,0.18,0.16,0.16,0.14,0.16,0.13,0.16,0.14,0.15,0.13,0.145,0.14,0.135,0.14];
const I4_val_acc = [0.50,0.50,0.50,0.50,0.50,0.50,0.82,0.85,0.87,0.88,0.885,0.89,0.90,0.90,0.92,0.905,0.935,0.91,0.93,0.92,0.93,0.935,0.93,0.94,0.935,0.935,0.945,0.93,0.94,0.935,0.945,0.94,0.935,0.945,0.94,0.94];

const I5_train_loss = [0.62,0.46,0.35,0.35,0.31,0.28,0.25,0.27,0.25,0.24,0.25,0.24,0.23,0.22,0.23,0.22,0.22,0.21,0.22,0.22,0.22,0.22,0.215,0.19,0.21,0.20,0.21,0.21,0.215,0.22];
const I5_train_acc = [0.62,0.80,0.86,0.87,0.875,0.88,0.89,0.89,0.895,0.90,0.90,0.90,0.905,0.905,0.91,0.91,0.905,0.91,0.915,0.915,0.915,0.915,0.915,0.915,0.915,0.915,0.91,0.91,0.91,0.905];
const I5_val_loss = [0.47,0.22,0.21,0.16,0.15,0.13,0.12,0.14,0.14,0.12,0.15,0.13,0.13,0.11,0.11,0.13,0.14,0.12,0.115,0.115,0.115,0.115,0.118,0.12,0.12,0.12,0.12,0.12,0.12,0.12];
const I5_val_acc = [0.82,0.92,0.91,0.93,0.95,0.965,0.945,0.965,0.955,0.96,0.965,0.935,0.96,0.965,0.965,0.965,0.96,0.96,0.965,0.965,0.965,0.965,0.965,0.965,0.965,0.965,0.965,0.965,0.965,0.965];

// ---------- row J ----------
const J1_train_loss = [0.13,0.06,0.035,0.025,0.015,0.01,0.005,0.003,0.002,0.002,0.002];
const J1_train_acc = [0.955,0.98,0.99,0.993,0.995,0.997,0.998,0.998,0.999,0.999,0.999];
const J1_val_loss = [0.055,0.13,0.21,0.10,0.15,0.39,0.83,0.945,0.895,0.42,0.35];
const J1_val_acc = [0.985,0.96,0.93,0.975,0.955,0.945,0.94,0.955,0.95,0.96,0.96];

const J2_train_loss = [0.68,0.22,0.12,0.055,0.025,0.015,0.01,0.005,0.004,0.003,0.003];
const J2_train_acc = [0.77,0.92,0.96,0.98,0.99,0.995,0.997,0.998,0.998,0.999,0.999];
const J2_val_loss = [0.065,0.065,0.11,0.115,0.585,0.13,0.155,0.20,0.185,0.18,0.17];
const J2_val_acc = [0.985,0.98,0.965,0.96,0.95,0.96,0.955,0.955,0.95,0.955,0.955];

const J3_train_loss = [0.43,0.065,0.035,0.02,0.02,0.015,0.01,0.008,0.005,0.005,0.005,0.005];
const J3_train_acc = [0.87,0.975,0.985,0.99,0.995,0.995,0.997,0.998,0.998,0.999,0.999,0.999];
const J3_val_loss = [0.015,0.01,0.005,0.003,0.01,0.045,0.01,0.015,0.025,0.03,0.035,0.035];
const J3_val_acc = [0.995,0.995,0.995,0.995,0.995,0.985,0.995,0.995,0.995,0.995,0.995,0.995];

const J4_train_loss = [0.43,0.065,0.04,0.02,0.02,0.015,0.01,0.008,0.005,0.005,0.005,0.005];
const J4_train_acc = [0.87,0.975,0.985,0.99,0.995,0.995,0.997,0.998,0.998,0.999,0.999,0.999];
const J4_val_loss = [0.015,0.01,0.005,0.003,0.01,0.045,0.01,0.015,0.02,0.03,0.035,0.035];
const J4_val_acc = [0.998,0.998,0.998,0.995,0.995,0.985,0.995,0.995,0.995,0.995,0.995,0.995];

const J5_train_loss = [0.35,0.09,0.04,0.015,0.02,0.015,0.005,0.003,0.003,0.003,0.003,0.003,0.003,0.003,0.003,0.003,0.003,0.003,0.003,0.003,0.003,0.003,0.003,0.003];
const J5_train_acc = [0.88,0.965,0.99,0.995,0.995,0.997,0.998,0.998,0.999,0.999,0.999,0.999,0.999,0.999,0.999,0.999,0.999,0.999,0.999,0.999,0.999,0.999,0.999,0.999];
const J5_val_loss = [0.055,0.02,0.035,0.06,0.02,0.025,0.025,0.03,0.025,0.02,0.02,0.09,0.075,0.01,0.025,0.025,0.025,0.075,0.085,0.035,0.03,0.03,0.03,0.03];
const J5_val_acc = [0.98,0.99,0.99,0.97,0.99,0.99,0.99,0.99,0.99,0.99,0.99,0.975,0.975,0.995,0.99,0.99,0.99,0.99,0.99,0.99,0.99,0.99,0.99,0.99];

// ---------- panel list: [id, row, col, x tick step, y tick step, legend pos (fx,fy), series] ----------
const PANELS = [
  ['A1',0,0,5,0.1,[0.556,0.336],[A1_train_loss,A1_train_acc,A1_val_loss,A1_val_acc]],
  ['A2',0,1,5,0.2,[0.56,0.095],[A2_train_loss,A2_train_acc,A2_val_loss,A2_val_acc]],
  ['A3',0,2,10,0.2,[0.56,0.35],[A3_train_loss,A3_train_acc,A3_val_loss,A3_val_acc]],
  ['A4',0,3,5,0.2,[0.565,0.35],[A4_train_loss,A4_train_acc,A4_val_loss,A4_val_acc]],
  ['A5',0,4,5,0.2,[0.56,0.35],[A5_train_loss,A5_train_acc,A5_val_loss,A5_val_acc]],
  ['B1',1,0,2,0.2,[0.566,0.33],[B1_train_loss,B1_train_acc,B1_val_loss,B1_val_acc]],
  ['B2',1,1,5,0.2,[0.565,0.33],[B2_train_loss,B2_train_acc,B2_val_loss,B2_val_acc]],
  ['B3',1,2,2.5,0.2,[0.565,0.33],[B3_train_loss,B3_train_acc,B3_val_loss,B3_val_acc]],
  ['B4',1,3,2.5,0.2,[0.565,0.33],[B4_train_loss,B4_train_acc,B4_val_loss,B4_val_acc]],
  ['B5',1,4,2.5,0.2,[0.565,0.33],[B5_train_loss,B5_train_acc,B5_val_loss,B5_val_acc]],
  ['C1',2,0,5,0.05,[0.30,0.35],[C1_train_loss,C1_train_acc,C1_val_loss,C1_val_acc]],
  ['C2',2,1,5,0.5,[0.56,0.34],[C2_train_loss,C2_train_acc,C2_val_loss,C2_val_acc]],
  ['C3',2,2,20,0.2,[0.56,0.34],[C3_train_loss,C3_train_acc,C3_val_loss,C3_val_acc]],
  ['C4',2,3,10,0.2,[0.56,0.34],[C4_train_loss,C4_train_acc,C4_val_loss,C4_val_acc]],
  ['C5',2,4,20,0.2,[0.58,0.34],[C5_train_loss,C5_train_acc,C5_val_loss,C5_val_acc]],
  ['D1',3,0,5,0.25,[0.30,0.565],[D1_train_loss,D1_train_acc,D1_val_loss,D1_val_acc]],
  ['D2',3,1,5,0.2,[0.56,0.32],[D2_train_loss,D2_train_acc,D2_val_loss,D2_val_acc]],
  ['D3',3,2,2.5,0.2,[0.565,0.32],[D3_train_loss,D3_train_acc,D3_val_loss,D3_val_acc]],
  ['D4',3,3,2.5,0.2,[0.565,0.32],[D4_train_loss,D4_train_acc,D4_val_loss,D4_val_acc]],
  ['D5',3,4,5,0.2,[0.565,0.32],[D5_train_loss,D5_train_acc,D5_val_loss,D5_val_acc]],
  ['E1',4,0,2.5,0.1,[0.06,0.56],[E1_train_loss,E1_train_acc,E1_val_loss,E1_val_acc]],
  ['E2',4,1,10,0.2,[0.56,0.07],[E2_train_loss,E2_train_acc,E2_val_loss,E2_val_acc]],
  ['E3',4,2,10,0.2,[0.56,0.31],[E3_train_loss,E3_train_acc,E3_val_loss,E3_val_acc]],
  ['E4',4,3,5,0.2,[0.57,0.31],[E4_train_loss,E4_train_acc,E4_val_loss,E4_val_acc]],
  ['E5',4,4,5,0.2,[0.57,0.31],[E5_train_loss,E5_train_acc,E5_val_loss,E5_val_acc]],
  ['F1',5,0,5,0.2,[0.566,0.326],[F1_train_loss,F1_train_acc,F1_val_loss,F1_val_acc]],
  ['F2',5,1,5,0.2,[0.565,0.326],[F2_train_loss,F2_train_acc,F2_val_loss,F2_val_acc]],
  ['F3',5,2,2.5,0.2,[0.565,0.326],[F3_train_loss,F3_train_acc,F3_val_loss,F3_val_acc]],
  ['F4',5,3,2.5,0.2,[0.565,0.326],[F4_train_loss,F4_train_acc,F4_val_loss,F4_val_acc]],
  ['F5',5,4,5,0.2,[0.565,0.326],[F5_train_loss,F5_train_acc,F5_val_loss,F5_val_acc]],
  ['G1',6,0,5,0.1,[0.56,0.35],[G1_train_loss,G1_train_acc,G1_val_loss,G1_val_acc]],
  ['G2',6,1,10,0.2,[0.57,0.03],[G2_train_loss,G2_train_acc,G2_val_loss,G2_val_acc]],
  ['G3',6,2,20,0.2,[0.56,0.35],[G3_train_loss,G3_train_acc,G3_val_loss,G3_val_acc]],
  ['G4',6,3,10,0.2,[0.565,0.35],[G4_train_loss,G4_train_acc,G4_val_loss,G4_val_acc]],
  ['G5',6,4,20,0.2,[0.565,0.35],[G5_train_loss,G5_train_acc,G5_val_loss,G5_val_acc]],
  ['H1',7,0,5,0.2,[0.566,0.34],[H1_train_loss,H1_train_acc,H1_val_loss,H1_val_acc]],
  ['H2',7,1,5,0.2,[0.565,0.34],[H2_train_loss,H2_train_acc,H2_val_loss,H2_val_acc]],
  ['H3',7,2,5,0.2,[0.565,0.34],[H3_train_loss,H3_train_acc,H3_val_loss,H3_val_acc]],
  ['H4',7,3,5,0.2,[0.565,0.34],[H4_train_loss,H4_train_acc,H4_val_loss,H4_val_acc]],
  ['H5',7,4,5,0.2,[0.565,0.34],[H5_train_loss,H5_train_acc,H5_val_loss,H5_val_acc]],
  ['I1',8,0,5,0.1,[0.56,0.35],[I1_train_loss,I1_train_acc,I1_val_loss,I1_val_acc]],
  ['I2',8,1,10,0.2,[0.56,0.145],[I2_train_loss,I2_train_acc,I2_val_loss,I2_val_acc]],
  ['I3',8,2,10,0.25,[0.08,0.065],[I3_train_loss,I3_train_acc,I3_val_loss,I3_val_acc]],
  ['I4',8,3,10,0.25,[0.065,0.07],[I4_train_loss,I4_train_acc,I4_val_loss,I4_val_acc]],
  ['I5',8,4,10,0.2,[0.58,0.35],[I5_train_loss,I5_train_acc,I5_val_loss,I5_val_acc]],
  ['J1',9,0,2,0.2,[0.06,0.35],[J1_train_loss,J1_train_acc,J1_val_loss,J1_val_acc]],
  ['J2',9,1,2,0.2,[0.56,0.35],[J2_train_loss,J2_train_acc,J2_val_loss,J2_val_acc]],
  ['J3',9,2,2.5,0.2,[0.565,0.35],[J3_train_loss,J3_train_acc,J3_val_loss,J3_val_acc]],
  ['J4',9,3,2.5,0.2,[0.565,0.35],[J4_train_loss,J4_train_acc,J4_val_loss,J4_val_acc]],
  ['J5',9,4,5,0.2,[0.556,0.337],[J5_train_loss,J5_train_acc,J5_val_loss,J5_val_acc]]
];

// ---------- geometry / style ----------
const PLOT_L0 = 59, COL_STEP = 217, PLOT_W = 187;
const PLOT_T0 = 21, ROW_STEP = 171.6, PLOT_H = 136;
const AXW = 42, AXH = 30, PT = 8, PR = 18;
const SERIF = '"Liberation Serif","Times New Roman",serif';

function ndiv(step){
  const e = Math.pow(10, Math.floor(Math.log10(step) + 1e-9));
  const mant = step / e;
  return [1, 2.5, 5, 10].some(v => Math.abs(v - mant) < 1e-6) ? 5 : 4;
}
function decimals(step){
  if (Number.isInteger(step)) return 0;
  return (String(step).split('.')[1] || '').length;
}
function fmt(v, d){
  let s = Number(v).toFixed(d);
  if (/^-0(\.0+)?$/.test(s)) s = s.slice(1);
  return s;
}

const figPlugin = {
  id: 'fig',
  afterDatasetsDraw(chart){
    const o = chart.options.plugins.fig;
    const ctx = chart.ctx, a = chart.chartArea;
    const xs = chart.scales.x, ys = chart.scales.y;
    ctx.save();
    ctx.strokeStyle = '#333';
    ctx.lineWidth = 0.8;
    ctx.beginPath();
    const tickX = (v, len) => { const px = Math.round(xs.getPixelForValue(v)) + 0.5; ctx.moveTo(px, a.bottom); ctx.lineTo(px, a.bottom - len); ctx.moveTo(px, a.top); ctx.lineTo(px, a.top + len); };
    const tickY = (v, len) => { const py = Math.round(ys.getPixelForValue(v)) + 0.5; ctx.moveTo(a.left, py); ctx.lineTo(a.left + len, py); ctx.moveTo(a.right, py); ctx.lineTo(a.right - len, py); };
    const minors = (scale, step) => { const d = step / ndiv(step); const out = []; for (let k = Math.ceil(scale.min / d - 1e-9); k * d <= scale.max + 1e-9; k++) out.push(k * d); return out; };
    minors(xs, o.xs).forEach(v => tickX(v, 2));
    xs.ticks.forEach(t => tickX(t.value, 3.5));
    minors(ys, o.ys).forEach(v => tickY(v, 2));
    ys.ticks.forEach(t => tickY(t.value, 3.5));
    ctx.stroke();
    ctx.lineWidth = 1;
    ctx.strokeRect(Math.round(a.left) + 0.5, Math.round(a.top) + 0.5, Math.round(a.width) - 1, Math.round(a.height) - 1);
    // legend (frameless, inside axes)
    const x0 = a.left + o.leg[0] * a.width, y0 = a.top + o.leg[1] * a.height;
    ctx.font = '12px ' + SERIF;
    ctx.textBaseline = 'middle';
    ctx.textAlign = 'left';
    chart.data.datasets.forEach((ds, i) => {
      const yy = y0 + i * 14.5;
      ctx.strokeStyle = ds.borderColor;
      ctx.lineWidth = 2;
      ctx.beginPath(); ctx.moveTo(x0, yy); ctx.lineTo(x0 + 20, yy); ctx.stroke();
      ctx.fillStyle = '#000';
      ctx.fillText(ds.label, x0 + 27, yy + 0.5);
    });
    ctx.restore();
  }
};

const fig = document.getElementById('fig');

COLUMN_TITLES.forEach((t, c) => {
  const d = document.createElement('div');
  d.className = 'ttl';
  d.textContent = t;
  d.style.left = (PLOT_L0 + COL_STEP * c + PLOT_W / 2 - 120) + 'px';
  fig.appendChild(d);
});
ROW_LETTERS.forEach((t, r) => {
  const d = document.createElement('div');
  d.className = 'let';
  d.textContent = t;
  const cy = r === 0 ? 26 : Math.round(PLOT_T0 + ROW_STEP * r) - 4;
  d.style.left = '6px';
  d.style.top = (cy - 12) + 'px';
  fig.appendChild(d);
});

PANELS.forEach(([id, r, c, xStep, yStep, leg, series]) => {
  const n = Math.max(...series.map(s => s.length));
  const M = n - 1;
  const all = [].concat(...series);
  const lo = Math.min(...all), hi = Math.max(...all);
  const mg = (hi - lo) * 0.05;
  const axw = id === 'I3' ? 20 : AXW;
  const plotL = PLOT_L0 + COL_STEP * c;
  const plotT = Math.round(PLOT_T0 + ROW_STEP * r);
  const cv = document.createElement('canvas');
  const W = axw + PLOT_W + PR, H = PT + PLOT_H + AXH;
  cv.width = W; cv.height = H;
  cv.style.width = W + 'px'; cv.style.height = H + 'px';
  cv.style.left = (plotL - axw) + 'px';
  cv.style.top = (plotT - PT) + 'px';
  fig.appendChild(cv);
  const xd = decimals(xStep), yd = decimals(yStep);
  new Chart(cv, {
    type: 'line',
    data: {
      datasets: series.map((arr, i) => ({
        label: SERIES_NAMES[i],
        data: arr.map((v, k) => ({x: k, y: v})),
        borderColor: SERIES_COLORS[i],
        backgroundColor: SERIES_COLORS[i],
        borderWidth: 1.4,
        pointRadius: 0,
        pointHoverRadius: 0,
        tension: 0,
        fill: false,
        borderJoinStyle: 'round',
        order: 3 - i
      }))
    },
    options: {
      responsive: false,
      animation: false,
      devicePixelRatio: 1,
      events: [],
      layout: {padding: {left: 0, right: PR, top: PT, bottom: 0}},
      plugins: {legend: {display: false}, tooltip: {enabled: false}, fig: {xs: xStep, ys: yStep, leg: leg}},
      scales: {
        x: {
          type: 'linear', position: 'bottom',
          min: -0.05 * M, max: 1.05 * M,
          grid: {display: false, drawTicks: false},
          border: {display: false},
          afterFit: s => { s.height = AXH; },
          ticks: {stepSize: xStep, includeBounds: false, autoSkip: false, maxRotation: 0, padding: 3, color: '#000',
                  font: {family: SERIF, size: 11.5}, callback: v => fmt(v, xd)},
          title: {display: true, text: 'Epoch', color: '#000', font: {family: SERIF, size: 12}, padding: {top: 0, bottom: 2}}
        },
        y: {
          type: 'linear', position: 'left',
          min: lo - mg, max: hi + mg,
          grid: {display: false, drawTicks: false},
          border: {display: false},
          afterFit: s => { s.width = axw; },
          ticks: {stepSize: yStep, includeBounds: false, autoSkip: false, padding: 5, color: '#000',
                  font: {family: SERIF, size: 11.5}, callback: v => fmt(v, yd)}
        }
      }
    },
    plugins: [figPlugin]
  });
});
</script></body></html>
